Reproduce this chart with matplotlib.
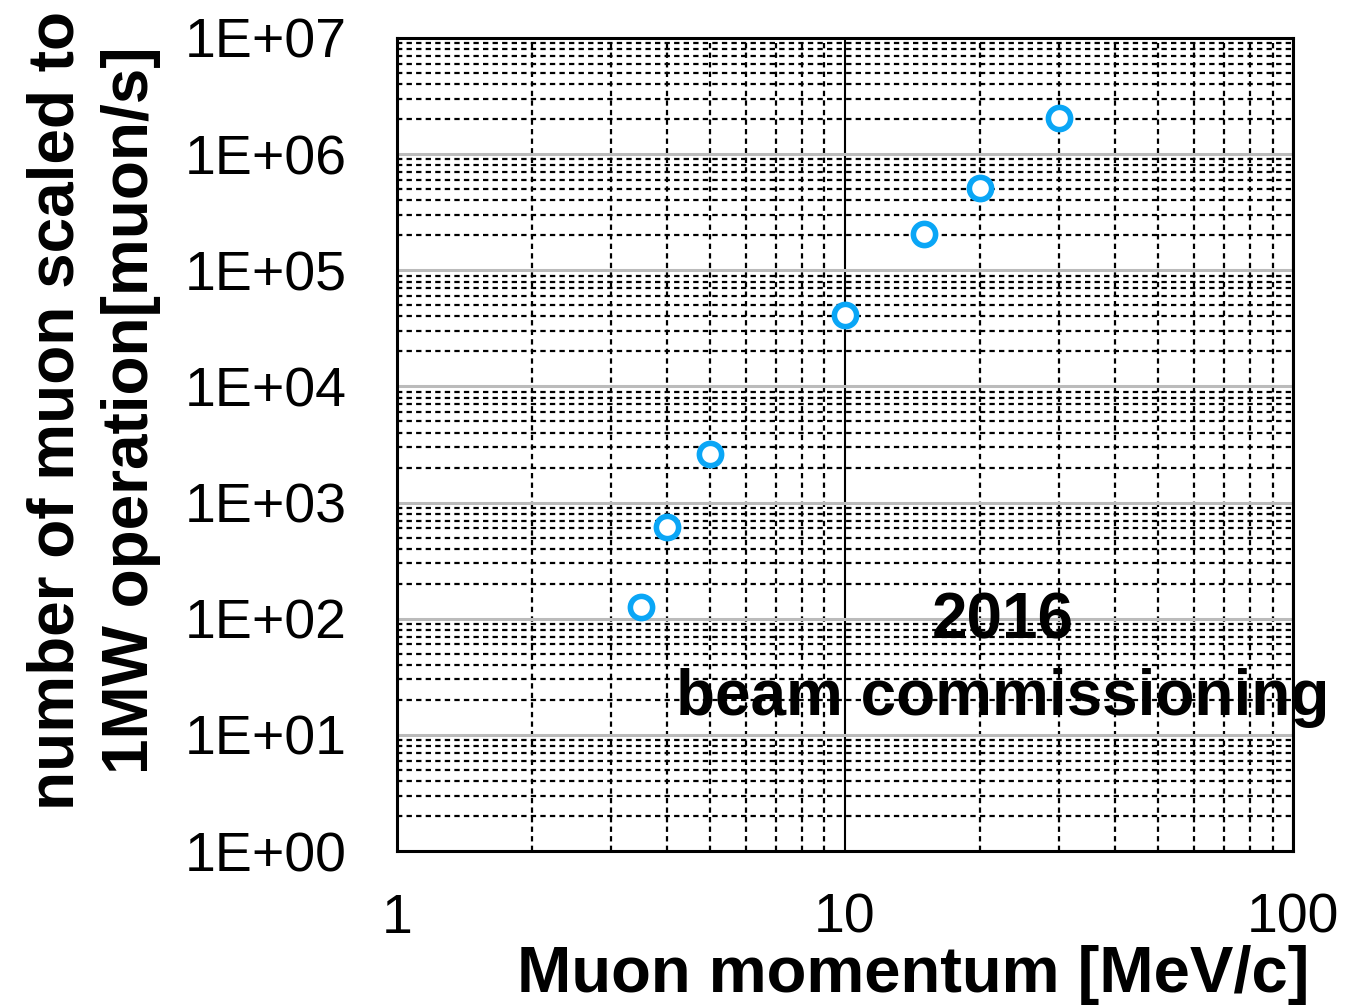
import matplotlib
matplotlib.use("Agg")
import matplotlib.pyplot as plt
import numpy as np
from matplotlib.ticker import LogLocator, NullFormatter

plt.rcParams['font.family'] = ['Liberation Sans', 'DejaVu Sans']

# 데이터
momentum = [3.5, 4.0, 5.0, 10.0, 15.0, 20.0, 30.0]
muon_rate = [1.25e2, 6.2e2, 2.6e3, 4.1e4, 2.05e5, 5.1e5, 2.05e6]

x_ticks = [1, 10, 100]
x_tick_labels = ["1", "10", "100"]
y_ticks = [1e0, 1e1, 1e2, 1e3, 1e4, 1e5, 1e6, 1e7]
y_tick_labels = ["1E+00", "1E+01", "1E+02", "1E+03", "1E+04", "1E+05", "1E+06", "1E+07"]

fig = plt.figure(figsize=(13.48, 10.07), dpi=100)
ax = fig.add_axes([0.2945, 0.1549, 0.6647, 0.8074])
ax.set_xscale('log')
ax.set_yscale('log')
ax.set_xlim(1, 100)
ax.set_ylim(1, 1e7)

ax.set_xticks(x_ticks)
ax.set_xticklabels(x_tick_labels)
ax.set_yticks(y_ticks)
ax.set_yticklabels(y_tick_labels)
ax.xaxis.set_minor_locator(LogLocator(base=10, subs=np.arange(2, 10)))
ax.yaxis.set_minor_locator(LogLocator(base=10, subs=np.arange(2, 10), numticks=20))
ax.xaxis.set_minor_formatter(NullFormatter())
ax.yaxis.set_minor_formatter(NullFormatter())
ax.tick_params(which='both', length=0)
ax.tick_params(axis='x', which='major', labelsize=40, pad=30)
ax.tick_params(axis='y', which='major', labelsize=40, pad=36)

# 그리드: 보조선은 검은 점선, y 주선은 회색 실선, x=10은 검은 실선
dash = (0, (2.4, 1.9))
ax.grid(which='minor', axis='both', color='black', linestyle=dash, linewidth=1.6)
ax.grid(which='major', axis='y', color='#bbbbbb', linestyle='-', linewidth=2.2)
ax.grid(which='major', axis='x', color='black', linestyle='-', linewidth=1.5)
ax.set_axisbelow(True)

for s in ax.spines.values():
    s.set_linewidth(2.2)
    s.set_color('black')

ax.plot(momentum, muon_rate, linestyle='none', marker='o', markersize=16,
        markerfacecolor='white', markeredgecolor='#0aa6f6', markeredgewidth=4,
        zorder=5, clip_on=False)

ax.text(0.676, 0.282, "2016", transform=ax.transAxes, ha='center', va='center',
        fontsize=46, fontweight='bold', zorder=6)
ax.text(0.676, 0.188, "beam commissioning", transform=ax.transAxes, ha='center',
        va='center', fontsize=46, fontweight='bold', zorder=6, clip_on=False)

fig.text(913 / 1348, 1 - 975 / 1007, "Muon momentum [MeV/c]", ha='center',
         va='center', fontsize=47, fontweight='bold')
fig.text(94 / 1348, 1 - 410 / 1007, "number of muon scaled to\n1MW operation[muon/s]",
         ha='center', va='center', rotation=90, multialignment='center',
         fontsize=46, fontweight='bold', linespacing=1.3)

fig.savefig("out.png", dpi=100)
